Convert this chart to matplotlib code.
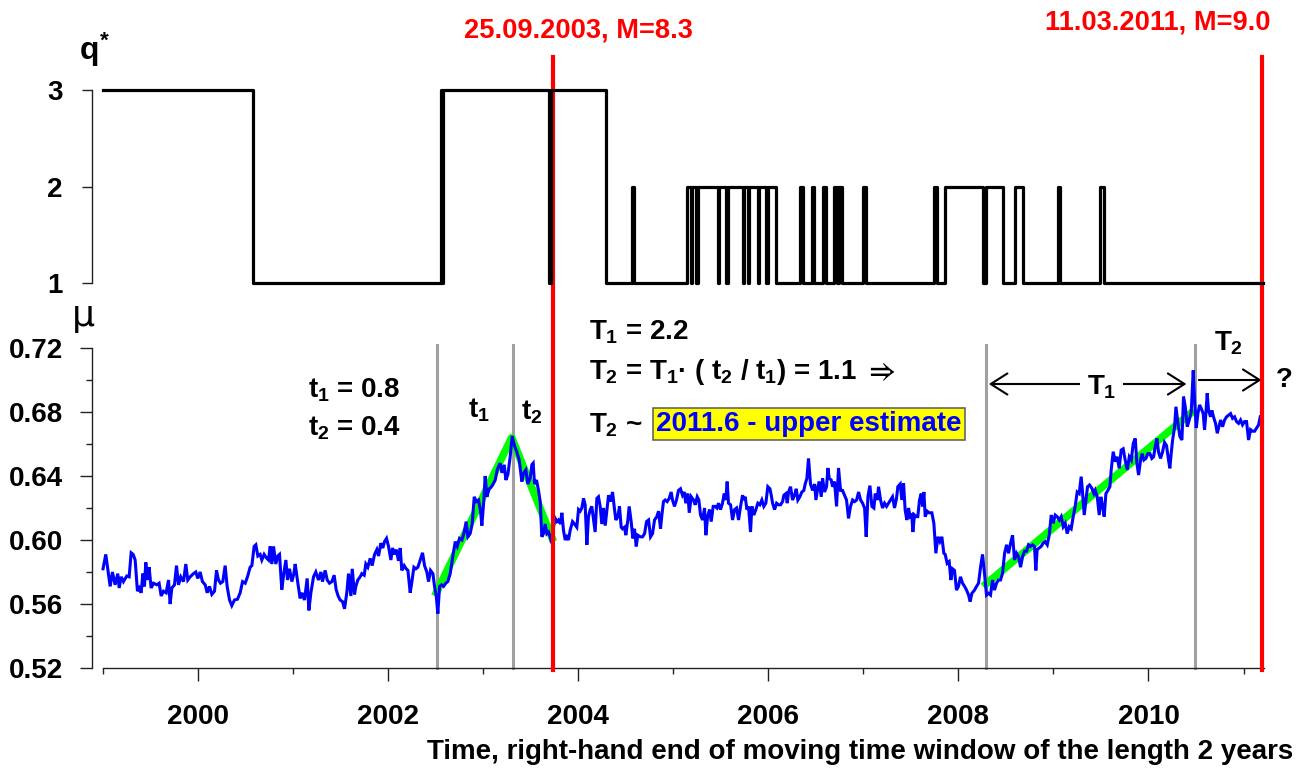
import numpy as np
import matplotlib
matplotlib.use("Agg")
import matplotlib.pyplot as plt

plt.rcParams['font.family'] = ['Liberation Sans', 'DejaVu Sans']
plt.rcParams['font.weight'] = 'bold'
plt.rcParams['mathtext.fontset'] = 'custom'
plt.rcParams['mathtext.rm'] = 'Liberation Sans:bold'
plt.rcParams['mathtext.bf'] = 'Liberation Sans:bold'
plt.rcParams['mathtext.it'] = 'Liberation Sans:bold'
plt.rcParams['mathtext.fallback'] = 'stixsans'

# ---------------- data ----------------
# q* (step series): year where a new level starts, and the level
q_years = [1999.00, 2000.583, 2002.555, 2002.567, 2002.58, 2003.69, 2003.712, 2004.29, 2004.563, 2004.59,
           2005.14, 2005.185, 2005.20, 2005.24, 2005.265, 2005.468, 2005.485, 2005.555, 2005.572, 2005.73,
           2005.748, 2005.782, 2005.80, 2005.888, 2005.905, 2005.976, 2005.993, 2006.081, 2006.335, 2006.366,
           2006.457, 2006.486, 2006.58, 2006.609, 2006.696, 2006.725, 2006.746, 2006.773, 2007.001, 2007.03,
           2007.745, 2007.772, 2007.861, 2008.264, 2008.288, 2008.474, 2008.597, 2008.685, 2009.046, 2009.064,
           2009.492, 2009.527, 2011.21]
q_values = [3, 1, 3, 1, 3, 1, 3, 1, 2, 1,
            2, 1, 2, 1, 2, 1, 2, 1, 2, 1,
            2, 1, 2, 1, 2, 1, 2, 1, 2, 1,
            2, 1, 2, 1, 2, 1, 2, 1, 2, 1,
            2, 1, 2, 1, 2, 1, 2, 1, 2, 1,
            2, 1, 1]

# mu, 1999.0 - 2003.3
mu_years_a = [
    1999.000, 1999.029, 1999.075, 1999.099, 1999.127, 1999.155, 1999.170, 1999.191, 1999.215, 1999.250,
    1999.275, 1999.296, 1999.317, 1999.338, 1999.362, 1999.380, 1999.401, 1999.419, 1999.436, 1999.450,
    1999.468, 1999.485, 1999.506, 1999.531, 1999.566, 1999.590, 1999.612, 1999.636, 1999.664, 1999.689,
    1999.706, 1999.724, 1999.752, 1999.773, 1999.794, 1999.818, 1999.847, 1999.871, 1999.892, 1999.917,
    1999.952, 1999.976, 1999.997, 2000.022, 2000.046, 2000.075, 2000.096, 2000.120, 2000.145, 2000.173,
    2000.194, 2000.215, 2000.236, 2000.260, 2000.285, 2000.306, 2000.331, 2000.355, 2000.383, 2000.415,
    2000.443, 2000.468, 2000.496, 2000.520, 2000.548, 2000.566, 2000.590, 2000.608, 2000.629, 2000.653,
    2000.671, 2000.695, 2000.717, 2000.741, 2000.759, 2000.776, 2000.794, 2000.818, 2000.839, 2000.857,
    2000.881, 2000.902, 2000.924, 2000.941, 2000.962, 2000.987, 2001.008, 2001.022, 2001.050, 2001.074,
    2001.092, 2001.120, 2001.148, 2001.166, 2001.187, 2001.215, 2001.239, 2001.267, 2001.292, 2001.309,
    2001.337, 2001.359, 2001.383, 2001.408, 2001.432, 2001.453, 2001.474, 2001.495, 2001.520, 2001.541,
    2001.565, 2001.583, 2001.608, 2001.622, 2001.646, 2001.660, 2001.681, 2001.706, 2001.723, 2001.748,
    2001.765, 2001.786, 2001.811, 2001.832, 2001.857, 2001.881, 2001.899, 2001.923, 2001.944, 2001.962,
    2001.983, 2002.004, 2002.029, 2002.046, 2002.067, 2002.085, 2002.109, 2002.127, 2002.144, 2002.169,
    2002.190, 2002.208, 2002.232, 2002.250, 2002.271, 2002.292, 2002.313, 2002.337, 2002.362, 2002.383,
    2002.407, 2002.425, 2002.446, 2002.471, 2002.488, 2002.506, 2002.523, 2002.541, 2002.562, 2002.583,
    2002.607, 2002.628, 2002.653, 2002.681, 2002.706, 2002.727, 2002.751, 2002.776, 2002.797, 2002.821,
    2002.839, 2002.863, 2002.884, 2002.906, 2002.927, 2002.951, 2002.972, 2002.986, 2003.007, 2003.021,
    2003.039, 2003.063, 2003.084, 2003.105, 2003.127, 2003.148, 2003.162, 2003.179, 2003.197, 2003.221,
    2003.239, 2003.260, 2003.284, 2003.305]
mu_values_a = [
    0.582, 0.591, 0.571, 0.580, 0.572, 0.579, 0.570, 0.577, 0.574, 0.5775,
    0.577, 0.592, 0.591, 0.5875, 0.568, 0.570, 0.567, 0.579, 0.571, 0.586,
    0.575, 0.583, 0.570, 0.573, 0.572, 0.573, 0.565, 0.568, 0.567, 0.575,
    0.560, 0.570, 0.572, 0.584, 0.572, 0.577, 0.574, 0.585, 0.575, 0.577,
    0.579, 0.580, 0.576, 0.580, 0.574, 0.572, 0.567, 0.571, 0.566, 0.568,
    0.581, 0.575, 0.573, 0.574, 0.584, 0.571, 0.5625, 0.559, 0.5625, 0.563,
    0.567, 0.574, 0.573, 0.577, 0.583, 0.584, 0.596, 0.597, 0.590, 0.591,
    0.5875, 0.591, 0.589, 0.5875, 0.596, 0.585, 0.596, 0.585, 0.590, 0.591,
    0.569, 0.579, 0.5875, 0.575, 0.582, 0.574, 0.579, 0.585, 0.573, 0.5635,
    0.567, 0.5625, 0.576, 0.556, 0.567, 0.577, 0.580, 0.575, 0.580, 0.574,
    0.581, 0.575, 0.573, 0.574, 0.578, 0.569, 0.565, 0.5625, 0.5615, 0.557,
    0.567, 0.579, 0.565, 0.582, 0.566, 0.571, 0.575, 0.577, 0.579, 0.578,
    0.585, 0.583, 0.5885, 0.584, 0.591, 0.594, 0.590, 0.598, 0.595, 0.599,
    0.601, 0.596, 0.5875, 0.595, 0.591, 0.594, 0.587, 0.595, 0.581, 0.584,
    0.582, 0.581, 0.567, 0.574, 0.583, 0.582, 0.583, 0.5875, 0.592, 0.584,
    0.580, 0.574, 0.581, 0.579, 0.571, 0.565, 0.554, 0.571, 0.572, 0.571,
    0.573, 0.574, 0.579, 0.590, 0.599, 0.596, 0.601, 0.600, 0.604, 0.6115,
    0.602, 0.604, 0.610, 0.627, 0.624, 0.625, 0.618, 0.609, 0.625, 0.640,
    0.627, 0.632, 0.633, 0.635, 0.6375, 0.644, 0.646, 0.648, 0.642, 0.647,
    0.6375, 0.641, 0.652, 0.665]

# mu, 2003.3 - 2007.37
mu_years_b = [
    2003.329, 2003.354, 2003.379, 2003.407, 2003.424, 2003.449, 2003.470, 2003.494, 2003.512, 2003.526,
    2003.540, 2003.561, 2003.582, 2003.600, 2003.617, 2003.635, 2003.652, 2003.670, 2003.687, 2003.705,
    2003.722, 2003.740, 2003.757, 2003.775, 2003.792, 2003.813, 2003.828, 2003.845, 2003.863, 2003.880,
    2003.898, 2003.915, 2003.940, 2003.961, 2003.985, 2004.003, 2004.020, 2004.038, 2004.056, 2004.073,
    2004.091, 2004.108, 2004.126, 2004.143, 2004.161, 2004.178, 2004.196, 2004.213, 2004.231, 2004.248,
    2004.266, 2004.284, 2004.301, 2004.319, 2004.340, 2004.361, 2004.382, 2004.396, 2004.417, 2004.434,
    2004.452, 2004.466, 2004.487, 2004.501, 2004.522, 2004.536, 2004.557, 2004.575, 2004.592, 2004.610,
    2004.627, 2004.652, 2004.677, 2004.698, 2004.719, 2004.740, 2004.761, 2004.782, 2004.803, 2004.827,
    2004.845, 2004.866, 2004.880, 2004.897, 2004.915, 2004.936, 2004.957, 2004.978, 2004.992, 2005.013,
    2005.034, 2005.055, 2005.076, 2005.097, 2005.115, 2005.132, 2005.154, 2005.168, 2005.189, 2005.213,
    2005.231, 2005.252, 2005.269, 2005.287, 2005.308, 2005.329, 2005.343, 2005.361, 2005.382, 2005.399,
    2005.420, 2005.441, 2005.459, 2005.476, 2005.497, 2005.518, 2005.536, 2005.553, 2005.567, 2005.581,
    2005.603, 2005.624, 2005.645, 2005.666, 2005.687, 2005.708, 2005.729, 2005.743, 2005.757, 2005.775,
    2005.792, 2005.813, 2005.827, 2005.848, 2005.869, 2005.890, 2005.911, 2005.932, 2005.953, 2005.974,
    2005.995, 2006.017, 2006.031, 2006.045, 2006.066, 2006.087, 2006.108, 2006.129, 2006.150, 2006.164,
    2006.185, 2006.199, 2006.213, 2006.234, 2006.255, 2006.276, 2006.294, 2006.311, 2006.332, 2006.353,
    2006.374, 2006.388, 2006.406, 2006.423, 2006.444, 2006.466, 2006.487, 2006.501, 2006.522, 2006.536,
    2006.557, 2006.571, 2006.592, 2006.613, 2006.627, 2006.641, 2006.662, 2006.676, 2006.697, 2006.718,
    2006.739, 2006.760, 2006.781, 2006.802, 2006.823, 2006.844, 2006.865, 2006.887, 2006.908, 2006.929,
    2006.950, 2006.971, 2006.992, 2007.013, 2007.030, 2007.048, 2007.069, 2007.090, 2007.111, 2007.125,
    2007.146, 2007.160, 2007.181, 2007.202, 2007.223, 2007.244, 2007.265, 2007.286, 2007.307, 2007.328,
    2007.349, 2007.363]
mu_values_b = [
    0.659, 0.655, 0.650, 0.6365, 0.6417, 0.6438, 0.635, 0.6385, 0.647, 0.648,
    0.635, 0.6375, 0.631, 0.624, 0.602, 0.604, 0.610, 0.604, 0.605, 0.602,
    0.598, 0.608, 0.6135, 0.6115, 0.6125, 0.610, 0.617, 0.606, 0.600, 0.602,
    0.600, 0.606, 0.6115, 0.610, 0.608, 0.619, 0.618, 0.620, 0.626, 0.622,
    0.597, 0.6146, 0.619, 0.621, 0.6125, 0.605, 0.626, 0.627, 0.621, 0.610,
    0.620, 0.609, 0.618, 0.628, 0.624, 0.630, 0.619, 0.6125, 0.6146, 0.621,
    0.608, 0.607, 0.608, 0.603, 0.6125, 0.621, 0.6115, 0.601, 0.607, 0.596,
    0.603, 0.602, 0.602, 0.604, 0.6115, 0.6125, 0.602, 0.604, 0.6125, 0.6146,
    0.618, 0.607, 0.6156, 0.624, 0.625, 0.624, 0.626, 0.630, 0.625, 0.621,
    0.625, 0.631, 0.632, 0.628, 0.630, 0.623, 0.629, 0.617, 0.627, 0.625,
    0.622, 0.627, 0.625, 0.6156, 0.6125, 0.620, 0.603, 0.6146, 0.619, 0.6115,
    0.621, 0.621, 0.620, 0.623, 0.619, 0.623, 0.629, 0.625, 0.6365, 0.623,
    0.622, 0.6125, 0.619, 0.620, 0.6125, 0.621, 0.628, 0.625, 0.627, 0.619,
    0.621, 0.605, 0.621, 0.6156, 0.619, 0.623, 0.622, 0.625, 0.621, 0.623,
    0.6333, 0.632, 0.628, 0.623, 0.619, 0.623, 0.622, 0.622, 0.624, 0.628,
    0.629, 0.623, 0.630, 0.6333, 0.625, 0.628, 0.632, 0.625, 0.627, 0.630,
    0.631, 0.635, 0.6385, 0.651, 0.635, 0.631, 0.635, 0.625, 0.6333, 0.6365,
    0.627, 0.6385, 0.630, 0.6333, 0.645, 0.6385, 0.6375, 0.6333, 0.6365, 0.621,
    0.645, 0.631, 0.631, 0.628, 0.625, 0.6135, 0.621, 0.625, 0.624, 0.625,
    0.630, 0.625, 0.623, 0.620, 0.602, 0.627, 0.634, 0.621, 0.620, 0.629,
    0.625, 0.6333, 0.625, 0.620, 0.623, 0.621, 0.623, 0.625, 0.627, 0.620,
    0.626, 0.6333]

# mu, 2007.37 - 2011.18
mu_years_c = [
    2007.388, 2007.405, 2007.423, 2007.440, 2007.458, 2007.475, 2007.493, 2007.510, 2007.521, 2007.538,
    2007.556, 2007.573, 2007.591, 2007.609, 2007.623, 2007.637, 2007.651, 2007.672, 2007.693, 2007.721,
    2007.742, 2007.763, 2007.784, 2007.805, 2007.826, 2007.847, 2007.861, 2007.882, 2007.903, 2007.921,
    2007.938, 2007.959, 2007.980, 2008.001, 2008.022, 2008.044, 2008.065, 2008.086, 2008.107, 2008.124,
    2008.142, 2008.170, 2008.191, 2008.212, 2008.233, 2008.254, 2008.275, 2008.296, 2008.317, 2008.338,
    2008.359, 2008.380, 2008.401, 2008.422, 2008.443, 2008.464, 2008.486, 2008.507, 2008.528, 2008.549,
    2008.570, 2008.591, 2008.612, 2008.633, 2008.654, 2008.675, 2008.696, 2008.717, 2008.738, 2008.759,
    2008.780, 2008.801, 2008.815, 2008.829, 2008.850, 2008.871, 2008.892, 2008.913, 2008.935, 2008.956,
    2008.977, 2008.998, 2009.019, 2009.040, 2009.061, 2009.082, 2009.103, 2009.124, 2009.145, 2009.166,
    2009.187, 2009.208, 2009.229, 2009.250, 2009.271, 2009.292, 2009.306, 2009.324, 2009.342, 2009.359,
    2009.380, 2009.405, 2009.426, 2009.440, 2009.461, 2009.482, 2009.499, 2009.517, 2009.534, 2009.552,
    2009.573, 2009.594, 2009.608, 2009.629, 2009.650, 2009.671, 2009.692, 2009.713, 2009.734, 2009.755,
    2009.777, 2009.798, 2009.819, 2009.840, 2009.861, 2009.878, 2009.896, 2009.917, 2009.934, 2009.952,
    2009.973, 2009.994, 2010.015, 2010.036, 2010.054, 2010.071, 2010.089, 2010.106, 2010.127, 2010.148,
    2010.169, 2010.190, 2010.211, 2010.225, 2010.239, 2010.254, 2010.275, 2010.289, 2010.310, 2010.331,
    2010.352, 2010.369, 2010.387, 2010.408, 2010.429, 2010.450, 2010.471, 2010.485, 2010.503, 2010.520,
    2010.538, 2010.555, 2010.576, 2010.590, 2010.604, 2010.618, 2010.632, 2010.653, 2010.667, 2010.689,
    2010.706, 2010.724, 2010.738, 2010.759, 2010.780, 2010.801, 2010.822, 2010.843, 2010.864, 2010.885,
    2010.906, 2010.927, 2010.948, 2010.969, 2010.990, 2011.011, 2011.032, 2011.053, 2011.074, 2011.095,
    2011.117, 2011.138, 2011.159, 2011.176]
mu_values_c = [
    0.635, 0.625, 0.6354, 0.6187, 0.6125, 0.620, 0.6146, 0.6156, 0.605, 0.6156,
    0.6146, 0.6146, 0.625, 0.629, 0.621, 0.630, 0.6146, 0.618, 0.617, 0.617,
    0.6104, 0.5917, 0.602, 0.599, 0.602, 0.5917, 0.591, 0.5854, 0.5865, 0.575,
    0.582, 0.581, 0.5687, 0.571, 0.577, 0.573, 0.571, 0.5687, 0.5656, 0.5615,
    0.5667, 0.5687, 0.571, 0.573, 0.583, 0.591, 0.579, 0.5656, 0.5667, 0.5656,
    0.575, 0.5687, 0.573, 0.575, 0.575, 0.579, 0.5917, 0.597, 0.5917, 0.598,
    0.603, 0.5875, 0.5917, 0.5896, 0.583, 0.5896, 0.593, 0.593, 0.597, 0.596,
    0.597, 0.596, 0.581, 0.594, 0.595, 0.596, 0.598, 0.599, 0.597, 0.603,
    0.6156, 0.6104, 0.6156, 0.6146, 0.6125, 0.6146, 0.6083, 0.6104, 0.604, 0.6083,
    0.607, 0.6146, 0.621, 0.630, 0.629, 0.6396, 0.630, 0.6156, 0.625, 0.6333,
    0.6344, 0.6323, 0.629, 0.631, 0.627, 0.6156, 0.627, 0.621, 0.6146, 0.629,
    0.631, 0.6333, 0.6438, 0.6552, 0.649, 0.652, 0.6448, 0.6562, 0.657, 0.650,
    0.6438, 0.652, 0.650, 0.6604, 0.6635, 0.648, 0.6406, 0.650, 0.654, 0.650,
    0.651, 0.654, 0.654, 0.651, 0.652, 0.6583, 0.6635, 0.655, 0.651, 0.655,
    0.661, 0.659, 0.650, 0.6448, 0.654, 0.6625, 0.6708, 0.6833, 0.6729, 0.6646,
    0.6625, 0.6896, 0.6833, 0.6708, 0.675, 0.680, 0.706, 0.6875, 0.670, 0.679,
    0.6844, 0.6823, 0.679, 0.6688, 0.679, 0.6917, 0.681, 0.677, 0.681, 0.676,
    0.6729, 0.6667, 0.670, 0.675, 0.6708, 0.675, 0.677, 0.678, 0.679, 0.676,
    0.677, 0.674, 0.6729, 0.675, 0.672, 0.674, 0.674, 0.6625, 0.669, 0.668,
    0.668, 0.670, 0.672, 0.677]

# linear trend segments (green)
fit1_years = [2002.49, 2003.30, 2003.74]
fit1_mu = [0.565, 0.664, 0.599]
fit2_years = [2008.26, 2010.48]
fit2_mu = [0.571, 0.681]

# events
quake_years = [2003.73, 2011.19]
quake_labels = ['25.09.2003, M=8.3', '11.03.2011, M=9.0']
marker_years = [2002.51, 2003.31, 2008.29, 2010.49]

x_major = [2000, 2002, 2004, 2006, 2008, 2010]
x_minor = [1999, 2001, 2003, 2005, 2007, 2009, 2011]
mu_major = [0.52, 0.56, 0.60, 0.64, 0.68, 0.72]
mu_minor = [0.54, 0.58, 0.62, 0.66, 0.70]
q_ticks = [1, 2, 3]

mu_years = mu_years_a + mu_years_b + mu_years_c
mu_values = mu_values_a + mu_values_b + mu_values_c

# ---------------- figure ----------------
W, H = 1305.0, 769.0
FS = 20
fig = plt.figure(figsize=(W / 100, H / 100), dpi=100)
XL = (1998.884, 2011.25)
left = 92 / W
width = (XL[1] - XL[0]) * 95.04 / W

ax = fig.add_axes([left, 1 - 668 / H, width, 320 / H])
axq = fig.add_axes([left, 1 - 290 / H, width, 233 / H])
for a in (ax, axq):
    a.patch.set_visible(False)
    a.set_xlim(*XL)
    a.spines['top'].set_visible(False)
    a.spines['right'].set_visible(False)
    for s in ('left', 'bottom'):
        a.spines[s].set_linewidth(1.0)
        a.spines[s].set_color('#222222')

# top panel q*
axq.spines['bottom'].set_visible(False)
axq.set_xticks([])
axq.set_ylim(0.9275, 3.342)
axq.set_yticks(q_ticks)
axq.set_yticklabels([str(v) for v in q_ticks])
axq.spines['left'].set_bounds(1, 3)
axq.tick_params(axis='y', length=7, width=1.0, pad=14, labelsize=FS, color='#222222')
axq.step(q_years, q_values, where='post', color='black', lw=2.3, zorder=3)

# bottom panel mu
ax.set_ylim(0.52, 0.72)
ax.set_yticks(mu_major)
ax.set_yticklabels(['%.2f' % v for v in mu_major])
ax.set_yticks(mu_minor, minor=True)
ax.spines['left'].set_bounds(0.52, 0.72)
ax.spines['bottom'].set_bounds(1999, 2011.22)
ax.set_xticks(x_major)
ax.set_xticklabels([str(v) for v in x_major])
ax.set_xticks(x_minor, minor=True)
ax.tick_params(axis='x', which='major', length=9, width=1.0, pad=17, labelsize=FS, color='#222222')
ax.tick_params(axis='x', which='minor', length=4.5, width=1.0, color='#222222')
ax.tick_params(axis='y', which='major', length=9, width=1.0, pad=12, labelsize=FS, color='#222222')
ax.tick_params(axis='y', which='minor', length=4.5, width=1.0, color='#222222')

for yr in marker_years:
    ax.plot([yr, yr], [0.52, 0.722], color='#a0a0a0', lw=2.2, zorder=1, clip_on=False)

ax.plot(fit1_years, fit1_mu, color='#00ff00', lw=5.5, zorder=2, solid_capstyle='butt')
ax.plot(fit2_years, fit2_mu, color='#00ff00', lw=5.5, zorder=2, solid_capstyle='butt')
ax.plot(mu_years, mu_values, color='#0000ff', lw=2.2, zorder=3, solid_joinstyle='miter')

for yr in quake_years:
    ax.plot([yr, yr], [0.519, 0.902], color='#ff0000', lw=3.0, zorder=6, clip_on=False)

fig.text(578 / W, 1 - 30 / H, quake_labels[0], color='#ff0000', ha='center', va='center', fontsize=19.6)
fig.text(1158 / W, 1 - 22 / H, quake_labels[1], color='#ff0000', ha='center', va='center', fontsize=19.6)

# axis titles
fig.text(79 / W, 1 - 50 / H, r'$q^{*}$', fontsize=23, ha='left', va='center')
fig.text(72 / W, 1 - 316 / H, 'μ', fontsize=26, ha='left', va='center', fontweight='normal',
         family='DejaVu Sans')
fig.text(1293 / W, 1 - 752 / H, 'Time, right-hand end of moving time window of the length 2 years',
         ha='right', va='center', fontsize=FS)

# annotations
ax.text(2001.16, 0.6938, r'$t_1$ = 0.8', fontsize=FS, ha='left', va='center')
ax.text(2001.16, 0.670, r'$t_2$ = 0.4', fontsize=FS, ha='left', va='center')
ax.text(2002.95, 0.681, r'$t_1$', fontsize=FS, ha='center', va='center')
ax.text(2003.51, 0.680, r'$t_2$', fontsize=FS, ha='center', va='center')
ax.text(2004.11, 0.730, r'$T_1$ = 2.2', fontsize=FS, ha='left', va='center')
ax.text(2004.11, 0.705, r'$T_2$ = $T_1$· ( $t_2$ / $t_1$) = 1.1 $\Rightarrow$', fontsize=FS,
        ha='left', va='center')
ax.text(2004.11, 0.672, r'$T_2$ ~', fontsize=FS, ha='left', va='center')
ax.text(2006.43, 0.6725, '2011.6 - upper estimate', fontsize=FS, ha='center', va='center',
        color='#0000ff', zorder=7,
        bbox=dict(boxstyle='square,pad=0.12', facecolor='#ffff00', edgecolor='#666666', lw=1.2))

ax.annotate('', xy=(2010.40, 0.6975), xytext=(2008.32, 0.6975),
            arrowprops=dict(arrowstyle='<->,head_length=0.6,head_width=0.38', color='black', lw=1.5,
                            shrinkA=0, shrinkB=0, mutation_scale=20), zorder=4)
ax.text(2009.505, 0.6955, r'$T_1$', fontsize=FS, ha='center', va='center', zorder=5,
        bbox=dict(boxstyle='square,pad=0.25', facecolor='white', edgecolor='none'))
ax.text(2010.842, 0.7231, r'$T_2$', fontsize=FS, ha='center', va='center')
ax.annotate('', xy=(2011.19, 0.700), xytext=(2010.53, 0.700),
            arrowprops=dict(arrowstyle='->,head_length=0.6,head_width=0.38', color='black', lw=1.5,
                            shrinkA=0, shrinkB=0, mutation_scale=20), zorder=4,
            annotation_clip=False)
ax.text(2011.34, 0.700, '?', fontsize=FS, ha='left', va='center')

fig.savefig('out.png', dpi=100)
